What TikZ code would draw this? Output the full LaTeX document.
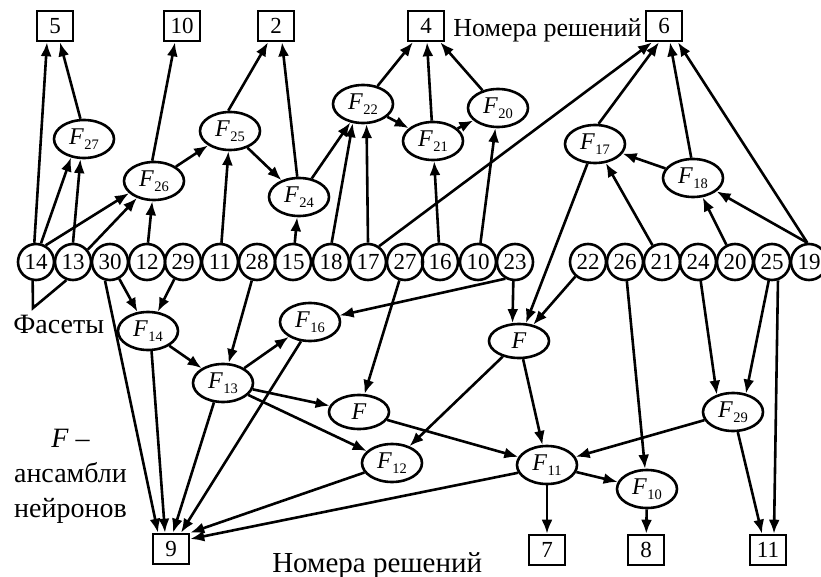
\documentclass[tikz,border=0pt]{standalone}
\usepackage{fontspec}
\setmainfont{Liberation Serif}
\usetikzlibrary{arrows.meta,shapes.geometric}
\newcommand\Fi[1]{\textit{F}\kern0.5pt\raisebox{-4.5pt}{\fontsize{14.5}{14.5}\selectfont #1}}
\begin{document}
\begin{tikzpicture}[x=1pt,y=-1pt,line width=2.6pt,
  circ/.style={circle,draw,minimum size=36pt,inner sep=0pt,font=\fontsize{23}{23}\selectfont},
  box/.style={rectangle,draw,minimum width=36pt,minimum height=30pt,inner sep=0pt,font=\fontsize{23}{23}\selectfont},
  ell/.style={ellipse,draw,minimum width=60pt,minimum height=38pt,inner sep=0pt,font=\fontsize{24}{24}\selectfont},
  ellf/.style={ell,minimum height=34pt},
  lbl/.style={inner sep=0pt,font=\fontsize{28}{28}\selectfont},
  arr/.style={-{Latex[length=14pt,width=11pt]}}]
\useasboundingbox (0,0) rectangle (821,577);
% circles
\foreach \n/\x in {14/36,13/73,30/110,12/147,29/183,11/220,28/257,15/293,18/331,17/368,27/405,16/440,10/478,23/515,22/588,26/625,21/662,24/698,20/735,25/772,19/809}
  \node[circ] (c\n) at (\x,262) {\n};
% boxes
\foreach \n/\x/\y in {5/55/26,10/182/26,2/276/26,4/426/26,6/664/26,9/171/549,7/547/550,8/646/550,11/768/550}
  \node[box] (b\n) at (\x,\y) {\n};
% ellipses
\foreach \n/\x/\y in {27/84/139,26/154/181,25/230/131,24/299/197,22/363/104,21/433/141,20/498/108,17/595/144,18/693/178,14/148/331,16/310/322,13/223/383,12/392/463,11/547/465,10/647/489,29/733/412}
  \node[ell] (F\n) at (\x,\y) {\Fi{\n}};
\node[ellf] (Fm) at (359,412) {\textit{F}};
\node[ellf] (Fr) at (519,341) {\textit{F}};
% labels
\node[lbl,anchor=base west,font=\fontsize{26}{26}\selectfont] (t1) at (452,37) {Номера решений};
\node[lbl,anchor=base west,font=\fontsize{29}{29}\selectfont] (t2) at (271,572) {Номера решений};
\node[lbl,anchor=base west] (t3) at (12,333) {Фасеты};
\node[lbl,anchor=base] (t4) at (70.5,447) {\textit{F} –};
\node[lbl,anchor=base] (t5) at (70.5,482) {ансамбли};
\node[lbl,anchor=base] (t6) at (70.5,517) {нейронов};
% bracket
\coordinate (br) at (33,308);
\draw (c14.-100) -- (br) -- (c13.-110);
% top connectors
\draw[arr] (c14.95) -- ([xshift=-8pt]b5.south);
\draw[arr] (F27.100) -- ([xshift=5pt]b5.south);
\draw[arr] (c14.75) -- (F27.235);
\draw[arr] (c13.90) -- (F27.-100);
\draw[arr] (c14.60) -- (F26.206);
\draw[arr] (c13.40) -- (F26.225);
\draw[arr] (c12.87) -- (F26.-95);
\draw[arr] (F26.95) -- ([xshift=-7pt]b10.south);
\draw[arr] (F26) -- (F25);
\draw[arr] (F25.95) -- ([xshift=-8pt]b2.south);
\draw[arr] (F24.95) -- ([xshift=6pt]b2.south);
\draw[arr] (c11) -- (F25);
\draw[arr] (F25) -- (F24);
\draw[arr] (c15) -- (F24);
\draw[arr] (F24) -- (F22);
\draw[arr] (c18.88) -- (F22.-118);
\draw[arr] (c17.north) -- (F22.-80);
\draw[arr] (c17.55) -- ([xshift=-12pt]b6.south);
\draw[arr] (F22) -- (b4);
\draw[arr] (F22) -- (F21);
\draw[arr] (F21) -- (b4);
\draw[arr] (F21) -- (F20);
\draw[arr] (F20) -- (b4);
\draw[arr] (c16) -- (F21);
\draw[arr] (c10) -- (F20);
\draw[arr] (F17.80) -- ([xshift=-5pt]b6.south);
\draw[arr] (F18.95) -- ([xshift=6pt]b6.south);
\draw[arr] (c19.95) -- ([xshift=14pt]b6.south);
\draw[arr] (F18) -- (F17);
\draw[arr] (c21) -- (F17);
\draw[arr] (c20) -- (F18);
\draw[arr] (c19.95) -- (F18);
% middle connectors
\draw[arr] (F17) -- (Fr);
\draw[arr] (c23.-95) -- (Fr.110);
\draw[arr] (c22) -- (Fr);
\draw[arr] (c23.-120) -- (F16);
\draw[arr] (c27) -- (Fm);
\draw[arr] (c28) -- (F13);
\draw[arr] (c30) -- (F14);
\draw[arr] (c29) -- (F14);
\draw[arr] (c30.-105) -- ([xshift=-13pt]b9.north);
\draw[arr] (F14.-80) -- ([xshift=-6pt]b9.north);
\draw[arr] (F13.-115) -- ([xshift=2pt]b9.north);
\draw[arr] (F16.-115) -- ([xshift=10pt]b9.north);
\draw[arr] (F12) -- (b9.north east);
\draw[arr] (F11.195) -- ([yshift=10pt]b9.east);
\draw[arr] (F14) -- (F13);
\draw[arr] (F13) -- (F16);
\draw[arr] (F13) -- (Fm);
\draw[arr] (F13) -- (F12);
\draw[arr] (Fm) -- (F11);
\draw[arr] (Fr) -- (F12);
\draw[arr] (Fr) -- (F11);
\draw[arr] (F29) -- (F11);
\draw[arr] (F11) -- (b7);
\draw[arr] (F11) -- (F10);
\draw[arr] (F10) -- (b8);
\draw[arr] (c26) -- (F10);
\draw[arr] (c24) -- (F29.133);
\draw[arr] (c25.-100) -- (F29.55);
\draw[arr] (c25.-72) -- ([xshift=6pt]b11.north);
\draw[arr] (F29) -- ([xshift=-6pt]b11.north);
\end{tikzpicture}
\end{document}
